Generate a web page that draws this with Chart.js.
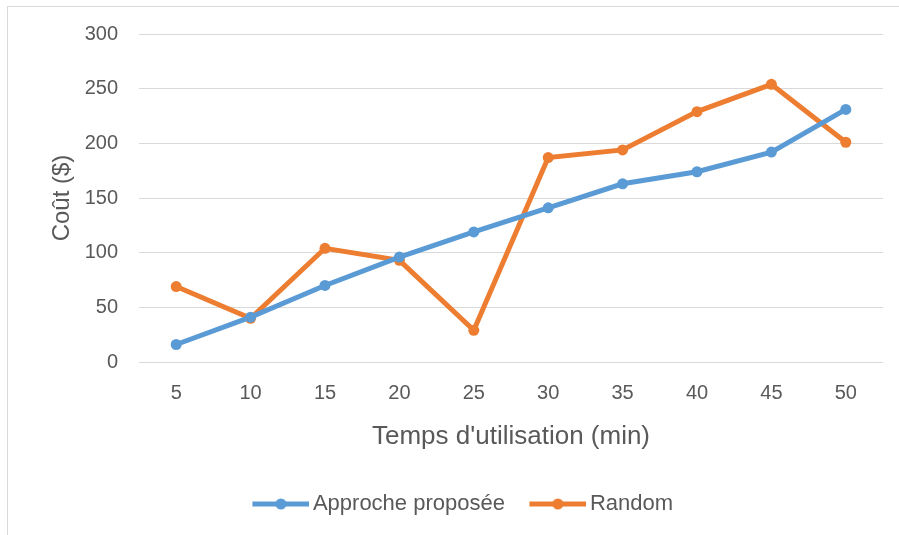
<!DOCTYPE html>
<html>
<head>
<meta charset="utf-8">
<script src="https://cdn.jsdelivr.net/npm/chart.js@4.4.0/dist/chart.umd.min.js"></script>
<style>
  body { margin: 0; background: #fff; overflow: hidden; }
  #frame { position: absolute; left: 7px; top: 6px; width: 950px; height: 600px; border: 1px solid #d9d9d9; }
  #chart { position: absolute; left: 0; top: 0; }
</style>
</head>
<body>
<div id="frame"></div>
<canvas id="chart" width="899" height="535"></canvas>
<script>
const categories = ['5', '10', '15', '20', '25', '30', '35', '40', '45', '50'];
const approcheValues = [16, 41, 70, 96, 119, 141, 163, 174, 192, 231];
const randomValues = [69, 40, 104, 93, 29, 187, 194, 229, 254, 201];
const yMin = 0;
const yMax = 300;
const yStep = 50;

const blue = '#5B9BD5';
const orange = '#ED7D31';
const textColor = '#595959';
const fontFamily = '"Liberation Sans", Arial, sans-serif';

// legend marker: short thick line with a dot, like the excel legend
function makeMarker(color) {
    const c = document.createElement('canvas');
    c.width = 79;
    c.height = 14;
    const ctx = c.getContext('2d');
    ctx.strokeStyle = color;
    ctx.lineWidth = 5;
    ctx.beginPath();
    ctx.moveTo(22, 7);
    ctx.lineTo(79, 7);
    ctx.stroke();
    ctx.fillStyle = color;
    ctx.beginPath();
    ctx.arc(50.5, 7, 5.5, 0, Math.PI * 2);
    ctx.fill();
    return c;
}
const markers = [makeMarker(blue), makeMarker(orange)];

new Chart(document.getElementById('chart').getContext('2d'), {
    type: 'line',
    data: {
        labels: categories,
        datasets: [{
            label: 'Approche proposée',
            data: approcheValues,
            borderColor: blue,
            backgroundColor: blue,
            borderWidth: 5,
            pointRadius: 5.5,
            pointBorderWidth: 0,
            pointBackgroundColor: blue,
            tension: 0
        }, {
            label: 'Random',
            data: randomValues,
            borderColor: orange,
            backgroundColor: orange,
            borderWidth: 5,
            pointRadius: 5.5,
            pointBorderWidth: 0,
            pointBackgroundColor: orange,
            tension: 0
        }]
    },
    options: {
        responsive: false,
        animation: false,
        layout: { padding: { left: 28, right: 16, top: 34, bottom: 10 } },
        plugins: {
            tooltip: { enabled: false },
            legend: {
                position: 'bottom',
                labels: {
                    color: textColor,
                    font: { family: fontFamily, size: 22 },
                    usePointStyle: true,
                    pointStyleWidth: 64,
                    padding: 10,
                    generateLabels: chart => chart.data.datasets.map((ds, i) => ({
                        text: ds.label,
                        fontColor: textColor,
                        pointStyle: markers[i],
                        datasetIndex: i,
                        lineWidth: 0,
                        hidden: false
                    }))
                }
            }
        },
        scales: {
            x: {
                offset: true,
                grid: { display: false, drawTicks: false },
                border: { display: false },
                ticks: { color: textColor, font: { family: fontFamily, size: 20 }, padding: 19, maxRotation: 0 },
                title: {
                    display: true,
                    text: "Temps d'utilisation (min)",
                    color: textColor,
                    font: { family: fontFamily, size: 26 },
                    padding: { top: 4, bottom: 31 }
                },
                afterFit: scale => { scale.height = 121; }
            },
            y: {
                min: yMin,
                max: yMax,
                grid: { color: '#d9d9d9', lineWidth: 1, drawTicks: false },
                border: { display: false },
                ticks: { stepSize: yStep, color: textColor, font: { family: fontFamily, size: 20 }, padding: 21 },
                title: {
                    display: true,
                    text: 'Coût ($)',
                    color: textColor,
                    font: { family: fontFamily, size: 24 },
                    padding: { top: 20, bottom: 4 }
                },
                afterFit: scale => { scale.width = 111; }
            }
        }
    }
});
</script>
</body>
</html>
